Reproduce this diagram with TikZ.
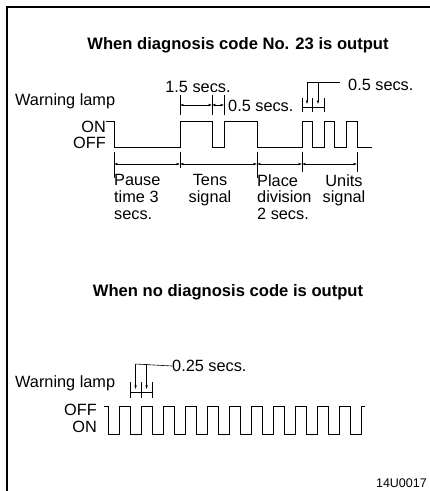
\documentclass[tikz,border=0pt]{standalone}
\usepackage{fontspec}
\setmainfont{Liberation Sans}
\usetikzlibrary{arrows.meta,positioning}

\begin{document}
\begin{tikzpicture}[x=1pt,y=-1pt,
        wave/.style={line width=0.95pt,line join=miter},
        dimline/.style={line width=0.6pt},
        dimarr/.style={line width=0.6pt,
              {Stealth[length=4pt,width=2.4pt]}-{Stealth[length=4pt,width=2.4pt]}},
        leadarr/.style={line width=0.6pt,-{Stealth[length=4pt,width=2.4pt]}},
        txt/.style={inner sep=0pt,font=\fontsize{16.3}{16.8}\selectfont},
        heading/.style={inner sep=0pt,font=\bfseries\fontsize{16.6}{18}\selectfont}]
        \useasboundingbox (0,0) rectangle (430,491);
        \draw[line width=2pt] (430,7) -- (7,7) -- (7,491);

        % code No. 23
        \node[heading] (codetitle) at (238,45) {When diagnosis code No. 23 is output};
        \node[txt,anchor=west] (lampA) at (15,101) {Warning lamp};
        \node[txt,anchor=east] (onA) at (106,127) {ON};
        \node[txt,anchor=east] (offA) at (106,143) {OFF};
        \draw[wave] (106,121) -- (114,121) -- (114,147) -- (180,147) -- (180,121)
              -- (212,121) -- (212,147) -- (224,147) -- (224,121) -- (257,121)
              -- (257,147) -- (302,147) -- (302,121) -- (312,121) -- (312,147)
              -- (324,147) -- (324,121) -- (334,121) -- (334,147) -- (346,147)
              -- (346,121) -- (357,121) -- (357,147) -- (372,147);

        \foreach \x in {180,212,224}
          \draw[dimline] (\x,95) -- (\x,115);
        \draw[dimarr] (180,105) -- (212,105);
        \draw[dimarr] (212,105) -- (224,105);
        \node[txt] (tensA) at (198,87) {1.5 secs.};
        \node[txt,anchor=west] (gapA) at (228,106) {0.5 secs.};

        \foreach \x in {302,312,324}
          \draw[dimline] (\x,98) -- (\x,112);
        \draw[dimline] (302,107) -- (324,107);
        \coordinate (unitsL) at (307,82);
        \coordinate (unitsR) at (318,82);
        \node[txt,anchor=west] (unitsA) at (348,85) {0.5 secs.};
        \draw[leadarr] (unitsL) -- (307,104);
        \draw[leadarr] (unitsR) -- (318,104);
        \draw[dimline] (unitsL) -- (340,82);

        \foreach \x/\y in {114/178,180/168,257/178,302/172,357/172}
          \draw[dimline] (\x,152) -- (\x,\y);
        \foreach \a/\b in {114/180,180/257,257/302,302/357}
          \draw[dimarr] (\a,164) -- (\b,164);
        \node[txt,anchor=north west,align=left] (pause) at (114,174)
              {Pause\\time 3\\secs.};
        \node[txt,anchor=north,align=center] (tens) at (210,174)
              {Tens\\signal};
        \node[txt,anchor=north west,align=left] (place) at (257,174)
              {Place\\division\\2 secs.};
        \node[txt,anchor=north,align=center] (units) at (344,174)
              {Units\\signal};

        % no code
        \node[heading] (nocodetitle) at (228,292) {When no diagnosis code is output};
        \node[txt,anchor=west] (lampB) at (15,383) {Warning lamp};
        \node[txt,anchor=east] (offB) at (97,410) {OFF};
        \node[txt,anchor=east] (onB) at (97,427) {ON};
        \draw[wave] (104,406) -- (108,406) -- (108,434)
              \foreach \k in {1,3,...,21} {
                -- ({108+\k*11.04},434) -- ({108+\k*11.04},406)
                -- ({108+(\k+1)*11.04},406) -- ({108+(\k+1)*11.04},434)}
              -- (361.9,434) -- (361.9,406) -- (365,406);

        \foreach \k in {2,3,4}
          \draw[dimline] ({108+\k*11.04},382) -- ({108+\k*11.04},398);
        \draw[dimline] (130.1,392) -- (152.2,392);
        \coordinate (quartL) at (135.6,364);
        \coordinate (quartR) at (146.6,364);
        \node[txt,anchor=west] (quartB) at (172,366) {0.25 secs.};
        \draw[leadarr] (quartL) -- (135.6,389);
        \draw[leadarr] (quartR) -- (146.6,389);
        \draw[dimline] (quartL) -- (quartB.west);

        \node[inner sep=0pt,font=\fontsize{12.5}{14}\selectfont,anchor=east]
              (figno) at (427,483) {14U0017};
      \end{tikzpicture}
\end{document}
